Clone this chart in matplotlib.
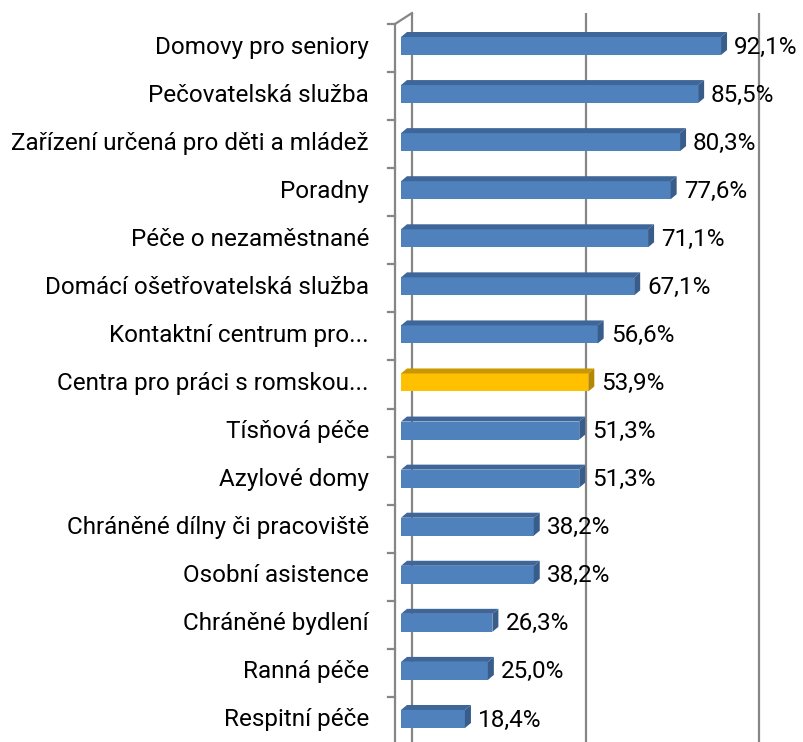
import numpy as np
import matplotlib
matplotlib.use("Agg")
import matplotlib.pyplot as plt
from matplotlib.patches import Polygon, Rectangle

# categories top to bottom
categories = [
    "Domovy pro seniory",
    "Pečovatelská služba",
    "Zařízení určená pro děti a mládež",
    "Poradny",
    "Péče o nezaměstnané",
    "Domácí ošetřovatelská služba",
    "Kontaktní centrum pro...",
    "Centra pro práci s romskou...",
    "Tísňová péče",
    "Azylové domy",
    "Chráněné dílny či pracoviště",
    "Osobní asistence",
    "Chráněné bydlení",
    "Ranná péče",
    "Respitní péče",
]
values = [92.1, 85.5, 80.3, 77.6, 71.1, 67.1, 56.6, 53.9, 51.3, 51.3, 38.2, 38.2, 26.3, 25.0, 18.4]
highlight = "Centra pro práci s romskou..."
grid_values = [0, 50, 100]

W, H = 804, 742
fig = plt.figure(figsize=(W / 100, H / 100), dpi=100)
ax = fig.add_axes([0, 0, 1, 1])
ax.set_axis_off()

# pixel layout -> data scale
sx = 3.475          # px per percent
x0_px = 401         # px where bar front starts
row_px = 48.07      # px per category row
y0_px = 46          # px of first row centre
ax.set_xlim(-x0_px / sx, (W - x0_px) / sx)
ax.set_ylim((H - y0_px) / row_px, -y0_px / row_px)

def px_x(p):
    return p / sx

def px_y(p):
    return p / row_px

grey = "#868686"
n = len(categories)
fs = 17.5

# wall geometry (data units)
front0 = -px_x(6)
wall_dx, wall_dy = px_x(17), px_y(11)
top_front = -px_y(22)
bot_front = n - 1 + px_y(52)
top_back = top_front - wall_dy
bot_back = bot_front - wall_dy

# back wall gridlines + floor slants
for g in grid_values:
    xb = front0 + g + wall_dx
    ax.plot([xb, xb], [top_back, bot_back], color=grey, lw=1.6, zorder=1,
            solid_capstyle="butt")
    ax.plot([xb, xb - wall_dx], [bot_back, bot_front], color=grey, lw=1.6, zorder=1)

# left (front) axis, top slant and ticks
ax.plot([front0, front0], [top_front, bot_front], color=grey, lw=1.6, zorder=3)
ax.plot([front0, front0 + wall_dx], [top_front, top_back], color=grey, lw=1.6, zorder=3)
for k in range(n + 1):
    ty = top_front + k
    ax.plot([front0 - px_x(7), front0], [ty, ty], color=grey, lw=1.6, zorder=3)

# 3D bars
bh = px_y(18)
bdx, bdy = px_x(6), px_y(5)
for i, (cat, v) in enumerate(zip(categories, values)):
    if cat == highlight:
        front, top, side = "#FFC000", "#C99700", "#B58800"
    else:
        front, top, side = "#4F81BD", "#3E6699", "#385D8A"
    y_top = i - bh / 2
    ax.add_patch(Rectangle((0, y_top), v, bh, facecolor=front, edgecolor="none", zorder=4))
    ax.add_patch(Polygon([(0, y_top), (v, y_top), (v + bdx, y_top - bdy), (bdx, y_top - bdy)],
                         closed=True, facecolor=top, edgecolor="none", zorder=4))
    ax.add_patch(Polygon([(v, y_top), (v + bdx, y_top - bdy), (v + bdx, y_top + bh - bdy),
                          (v, y_top + bh)], closed=True, facecolor=side, edgecolor="none", zorder=4))
    ax.text(v + bdx + px_x(7), i + px_y(1), f"{v:.1f}%".replace(".", ","),
            ha="left", va="center", fontsize=fs, family="Roboto", color="#000000", zorder=5)
    ax.text(-px_x(32), i + px_y(1), cat, ha="right", va="center", fontsize=fs,
            family="Roboto", color="#000000", zorder=5)

fig.savefig("out.png", dpi=100)
